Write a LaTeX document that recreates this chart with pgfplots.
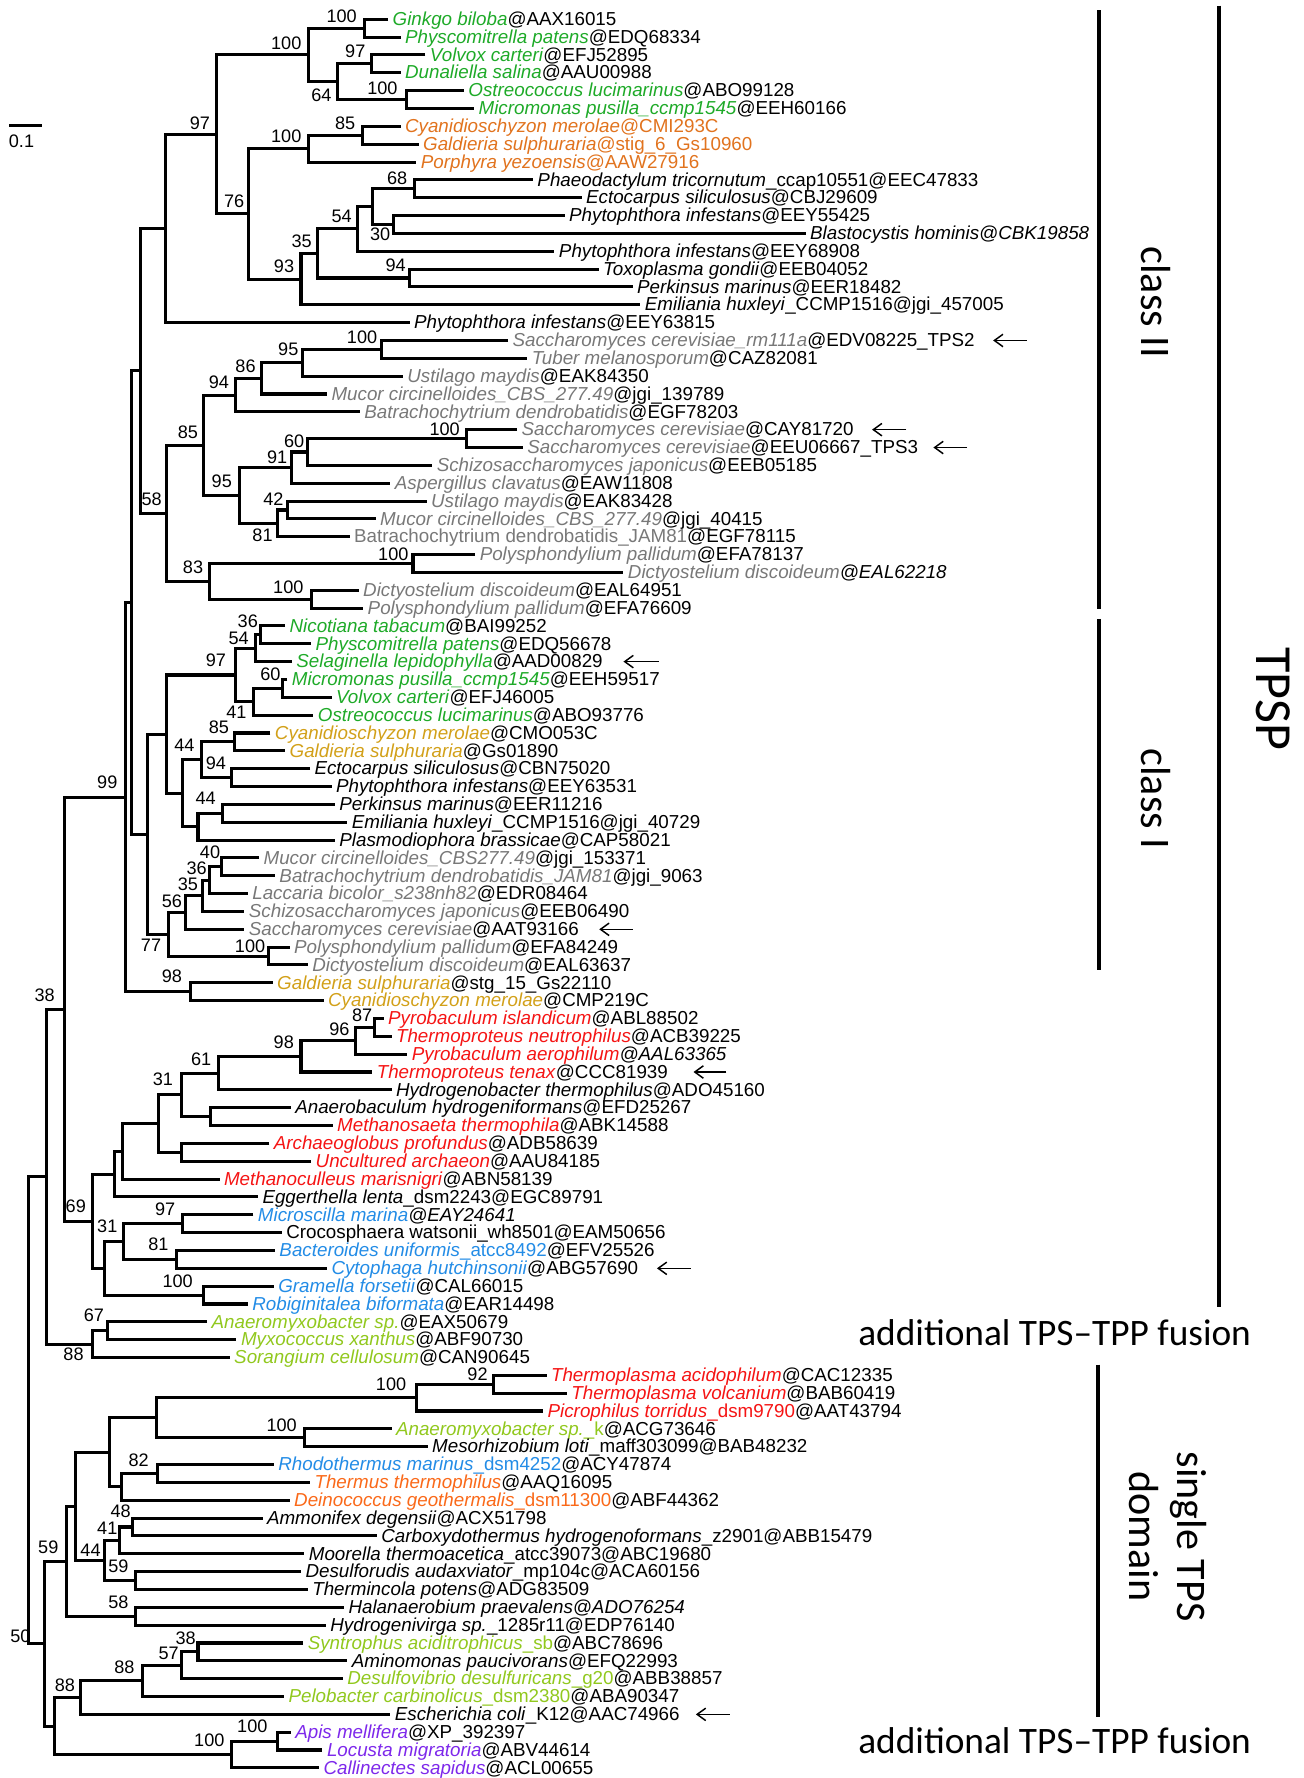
\documentclass[border=0pt]{standalone}
\usepackage{pgfplots}
\pgfplotsset{compat=1.18}
\usepackage{fontspec}
\setmainfont{Liberation Sans}
\newfontfamily\calfont[Ligatures=TeX]{Carlito}
\usetikzlibrary{arrows.meta}
\definecolor{cg}{RGB}{30,170,40}
\definecolor{co}{RGB}{225,115,30}
\definecolor{cd}{RGB}{210,160,25}
\definecolor{cy}{RGB}{120,120,120}
\definecolor{cr}{RGB}{245,20,20}
\definecolor{cb}{RGB}{35,140,230}
\definecolor{cp}{RGB}{145,200,30}
\definecolor{ct}{RGB}{250,105,25}
\definecolor{cv}{RGB}{125,40,235}
\newcommand{\cG}[1]{\textcolor{cg}{\textit{#1}}}
\newcommand{\cO}[1]{\textcolor{co}{\textit{#1}}}
\newcommand{\cD}[1]{\textcolor{cd}{\textit{#1}}}
\newcommand{\cY}[1]{\textcolor{cy}{\textit{#1}}}
\newcommand{\cR}[1]{\textcolor{cr}{\textit{#1}}}
\newcommand{\cB}[1]{\textcolor{cb}{\textit{#1}}}
\newcommand{\cP}[1]{\textcolor{cp}{\textit{#1}}}
\newcommand{\cT}[1]{\textcolor{ct}{\textit{#1}}}
\newcommand{\cV}[1]{\textcolor{cv}{\textit{#1}}}
\tikzset{
 tr/.style={black,line width=1.35pt,mark=none,line join=miter,line cap=butt},
 bar/.style={black,line width=1.9pt,mark=none},
 arr/.style={black,line width=0.65pt,mark=none,-{Straight Barb[length=3.8pt,width=5.5pt]}},
 lab/.style={anchor=base west,inner sep=0pt,xshift=1.8pt,yshift=-2.75pt,font=\fontsize{8.3}{10}\selectfont},
 sup/.style={anchor=center,inner sep=0pt,font=\fontsize{8}{9}\selectfont},
}
\newcommand{\br}[5]{\addplot[tr] coordinates {(#1,#2) (#3,#2) (#3,#4) (#5,#4)};}
\newcommand{\lf}[3]{\node[lab] at (axis cs:#1,#2) {#3};}
\newcommand{\sv}[3]{\node[sup] at (axis cs:#1,#2) {#3};}
\begin{document}
\begin{tikzpicture}
\begin{axis}[x=0.5pt,y=0.5pt,y dir=reverse,xmin=0,xmax=1152,ymin=0,ymax=1568,
 axis lines=box,axis line style={draw=none},xtick=\empty,ytick=\empty,clip=false]
% ---- class II
\br{343}{17.0}{322}{32.8}{354}
\br{376}{48.5}{328}{64.3}{354}
\br{410}{80.1}{359}{95.9}{419}
\br{328}{56.4}{298}{88.0}{359}
\br{322}{24.9}{273}{72.2}{298}
\br{354}{111.6}{320}{127.4}{370}
\br{320}{119.5}{273}{143.2}{368}
\br{471}{158.9}{366}{174.7}{514}
\br{499}{190.5}{348}{206.2}{712}
\br{366}{166.8}{329}{198.35}{348}
\br{329}{182.6}{316}{222.0}{490}
\br{529}{237.8}{362}{253.6}{559}
\br{316}{202.3}{281}{245.7}{362}
\br{281}{224.0}{266}{269.3}{566}
\br{273}{131.35}{220}{246.65}{266}
\br{273}{48.55}{191}{189.0}{220}
\br{191}{118.8}{146}{285.1}{362}
\br{449}{300.9}{337}{316.6}{466}
\br{337}{308.75}{267}{332.4}{356}
\br{267}{320.6}{231}{348.2}{289}
\br{231}{334.4}{208}{364.0}{318}
\br{457}{379.7}{412}{395.5}{462}
\br{412}{387.6}{272}{411.3}{382}
\br{272}{399.45}{258}{427.0}{345}
\br{377}{442.8}{254}{458.6}{332}
\br{254}{450.7}{245}{474.3}{309}
\br{258}{413.2}{212}{462.5}{245}
\br{208}{349.2}{180}{437.85}{212}
\br{420}{490.1}{365}{505.9}{551}
\br{317}{521.6}{275}{537.4}{321}
\br{365}{498.0}{185}{529.5}{275}
\br{180}{393.5}{147}{513.75}{185}
\br{146}{201.95}{124}{453.6}{147}
% ---- class I
\br{252}{553.2}{230}{569.0}{275}
\br{230}{561.1}{226}{584.7}{258}
\br{254}{600.5}{250}{616.3}{293}
\br{250}{608.4}{224}{632.0}{277}
\br{226}{572.9}{208}{620.2}{224}
\br{239}{647.8}{207}{663.6}{252}
\br{274}{679.3}{205}{695.1}{293}
\br{207}{655.7}{178}{687.2}{205}
\br{296}{710.9}{197}{726.7}{307}
\br{197}{718.8}{175}{742.4}{296}
\br{178}{671.45}{161}{730.6}{175}
\br{208}{596.55}{147}{701.0}{161}
\br{229}{758.2}{196}{774.0}{243}
\br{196}{766.1}{185}{789.7}{219}
\br{185}{777.9}{179}{805.5}{216}
\br{179}{791.7}{164}{821.3}{216}
\br{256}{837.0}{237}{852.8}{272}
\br{164}{806.5}{149}{844.9}{237}
\br{147}{648.8}{130}{825.7}{149}
\br{124}{327.8}{116}{737.25}{130}
\br{241}{868.6}{168}{884.3}{286}
\br{116}{532.5}{111}{876.45}{168}
% ---- fusion group
\br{339}{900.1}{331}{915.9}{346}
\br{331}{908.0}{314}{931.6}{360}
\br{314}{919.8}{266}{947.4}{329}
\br{266}{933.6}{193}{963.2}{346}
\br{257}{979.0}{186}{994.7}{294}
\br{193}{948.4}{160}{986.85}{186}
\br{238}{1010.5}{160}{1026.3}{275}
\br{160}{967.6}{140}{1018.4}{160}
\br{140}{993.0}{108}{1042.0}{194}
\br{108}{1017.5}{101}{1057.8}{228}
\br{224}{1073.6}{161}{1089.3}{249}
\br{243}{1105.1}{156}{1120.9}{289}
\br{161}{1081.45}{109}{1113.0}{156}
\br{242}{1136.6}{180}{1152.4}{219}
\br{109}{1097.2}{92}{1144.5}{180}
\br{101}{1037.65}{82}{1120.85}{92}
\br{111}{704.5}{57}{1079.25}{82}
\br{183}{1168.2}{95}{1184.0}{209}
\br{95}{1176.1}{82}{1199.7}{203}
\br{57}{891.9}{41}{1187.9}{82}
% ---- single TPS
\br{483}{1215.5}{436}{1231.3}{501}
\br{436}{1223.4}{368}{1247.0}{480}
\br{346}{1262.8}{269}{1278.6}{378}
\br{368}{1235.2}{138}{1270.7}{269}
\br{242}{1294.3}{139}{1310.1}{274}
\br{139}{1302.2}{107}{1325.9}{256}
\br{138}{1252.95}{97}{1314.05}{107}
\br{232}{1341.6}{117}{1357.4}{333}
\br{117}{1349.5}{106}{1373.2}{269}
\br{266}{1389.0}{120}{1404.7}{272}
\br{106}{1361.35}{92}{1396.85}{120}
\br{97}{1283.5}{67}{1379.1}{92}
\br{304}{1420.5}{120}{1436.3}{288}
\br{67}{1331.3}{59}{1428.4}{120}
\br{268}{1452.0}{175}{1467.8}{307}
\br{175}{1459.9}{160}{1483.6}{303}
\br{160}{1471.75}{126}{1499.3}{251}
\br{126}{1485.5}{71}{1515.1}{345}
\br{257}{1530.9}{245}{1546.6}{285}
\br{245}{1538.75}{205}{1562.4}{282}
\br{71}{1500.3}{48}{1550.6}{205}
\br{59}{1379.85}{39.5}{1525.45}{48}
\br{41}{1039.9}{25}{1452.65}{39.5}
% scale bar
\addplot[tr] coordinates {(8,110.8) (36.7,110.8)};
\sv{19}{125}{0.1}
% bars
\addplot[bar] coordinates {(971.5,9) (971.5,538)};
\addplot[bar] coordinates {(971.5,547) (971.5,857)};
\addplot[bar] coordinates {(1077.5,5) (1077.5,1155)};
\addplot[bar] coordinates {(970.5,1206) (970.5,1517)};
% arrows
\addplot[arr] coordinates {(907.4,300.9) (877.7,300.9)};
\addplot[arr] coordinates {(801,379.7) (770.7,379.7)};
\addplot[arr] coordinates {(854.7,395.5) (824.9,395.5)};
\addplot[arr] coordinates {(582,584.7) (551,584.7)};
\addplot[arr] coordinates {(559,821.3) (529.6,821.3)};
\addplot[arr] coordinates {(642,947.4) (612.9,947.4)};
\addplot[arr] coordinates {(610.4,1120.9) (580.6,1120.9)};
\addplot[arr] coordinates {(645,1515.1) (615,1515.1)};
% right labels
\node[rotate=-90,inner sep=0pt,font=\calfont\fontsize{18.6}{20}\selectfont] at (axis cs:1022,267) {class II};
\node[rotate=-90,inner sep=0pt,font=\calfont\fontsize{18.6}{20}\selectfont] at (axis cs:1022,706) {class I};
\node[rotate=-90,inner sep=0pt,font=\calfont\fontsize{23}{25}\selectfont] at (axis cs:1125.5,617.5) {TPSP};
\node[rotate=-90,inner sep=0pt,align=center,font=\calfont\fontsize{18.6}{21}\selectfont] at (axis cs:1032,1358) {single TPS\\domain};
\node[anchor=east,inner sep=0pt,font=\calfont\fontsize{16.5}{18}\selectfont] at (axis cs:1106,1178) {additional TPS\textendash TPP fusion};
\node[anchor=east,inner sep=0pt,font=\calfont\fontsize{16.5}{18}\selectfont] at (axis cs:1106,1538.5) {additional TPS\textendash TPP fusion};
% support values
\sv{302}{14.7}{100}
\sv{253}{38.2}{100}
\sv{314}{45.6}{97}
\sv{284}{83.8}{64}
\sv{338}{77.9}{100}
\sv{176.6}{108.8}{97}
\sv{305}{108.8}{85}
\sv{253}{120.5}{100}
\sv{351}{157.3}{68}
\sv{207}{177.9}{76}
\sv{302}{191}{54}
\sv{336}{207.3}{30}
\sv{266.6}{213.2}{35}
\sv{251}{235.2}{93}
\sv{349.6}{234.3}{94}
\sv{320}{298.4}{100}
\sv{254.8}{308.7}{95}
\sv{217}{323.4}{86}
\sv{193.5}{338.1}{94}
\sv{166}{382.2}{85}
\sv{393}{379.3}{100}
\sv{260}{389.6}{60}
\sv{245}{404.3}{91}
\sv{196}{425.7}{95}
\sv{241.7}{441}{42}
\sv{134}{441}{58}
\sv{232}{473.4}{81}
\sv{347.6}{489.5}{100}
\sv{170.6}{501.3}{83}
\sv{254.8}{519}{100}
\sv{219}{549.2}{36}
\sv{211}{563.9}{54}
\sv{190.8}{583.6}{97}
\sv{239}{596.2}{60}
\sv{209}{629.2}{41}
\sv{193.5}{642.4}{85}
\sv{163}{658.6}{44}
\sv{190.8}{674.7}{94}
\sv{94.8}{690.9}{99}
\sv{181.7}{705.6}{44}
\sv{185.6}{753.2}{40}
\sv{173.8}{767.4}{36}
\sv{166}{781.5}{35}
\sv{152}{796.8}{56}
\sv{133.5}{835}{77}
\sv{221}{836.5}{100}
\sv{152}{863}{98}
\sv{39.5}{879.2}{38}
\sv{320}{897.4}{87}
\sv{300}{909.2}{96}
\sv{250.8}{920.9}{98}
\sv{177.8}{936.5}{61}
\sv{144}{954.1}{31}
\sv{67}{1065.9}{69}
\sv{146}{1068.8}{97}
\sv{94.8}{1083.5}{31}
\sv{140}{1099.7}{81}
\sv{157}{1132}{100}
\sv{83}{1162}{67}
\sv{65}{1196.7}{88}
\sv{422}{1214.5}{92}
\sv{345.6}{1223.2}{100}
\sv{248.9}{1259.3}{100}
\sv{122.5}{1290.2}{82}
\sv{106.7}{1336}{48}
\sv{94.8}{1351}{41}
\sv{42.7}{1367.2}{59}
\sv{80}{1370.2}{44}
\sv{104.7}{1384.3}{59}
\sv{104.7}{1415.8}{58}
\sv{18}{1446}{50}
\sv{164}{1448}{38}
\sv{149}{1461.3}{57}
\sv{110}{1473.1}{88}
\sv{57.3}{1489.3}{88}
\sv{223}{1525.4}{100}
\sv{185}{1537.8}{100}
% leaf labels
\lf{343}{17.0}{\cG{Ginkgo biloba}@AAX16015}
\lf{354}{32.8}{\cG{Physcomitrella patens}@EDQ68334}
\lf{376}{48.5}{\cG{Volvox carteri}@EFJ52895}
\lf{354}{64.3}{\cG{Dunaliella salina}@AAU00988}
\lf{410}{80.1}{\cG{Ostreococcus lucimarinus}@ABO99128}
\lf{419}{95.9}{\cG{Micromonas pusilla\_ccmp1545}@EEH60166}
\lf{354}{111.6}{\cO{Cyanidioschyzon merolae}\textcolor{co}{@CMI293C}}
\lf{370}{127.4}{\cO{Galdieria sulphuraria}\textcolor{co}{@stig\_6\_Gs10960}}
\lf{368}{143.2}{\cO{Porphyra yezoensis}\textcolor{co}{@AAW27916}}
\lf{471}{158.9}{\textit{Phaeodactylum tricornutum}\_ccap10551@EEC47833}
\lf{514}{174.7}{\textit{Ectocarpus siliculosus}@CBJ29609}
\lf{499}{190.5}{\textit{Phytophthora infestans}@EEY55425}
\lf{712}{206.2}{\textit{Blastocystis hominis@CBK19858}}
\lf{490}{222.0}{\textit{Phytophthora infestans}@EEY68908}
\lf{529}{237.8}{\textit{Toxoplasma gondii}@EEB04052}
\lf{559}{253.6}{\textit{Perkinsus marinus}@EER18482}
\lf{566}{269.3}{\textit{Emiliania huxleyi}\_CCMP1516@jgi\_457005}
\lf{362}{285.1}{\textit{Phytophthora infestans}@EEY63815}
\lf{449}{300.9}{\cY{Saccharomyces cerevisiae\_rm111a}@EDV08225\_TPS2}
\lf{466}{316.6}{\cY{Tuber melanosporum}@CAZ82081}
\lf{356}{332.4}{\cY{Ustilago maydis}@EAK84350}
\lf{289}{348.2}{\cY{Mucor circinelloides\_CBS\_277.49}@jgi\_139789}
\lf{318}{364.0}{\cY{Batrachochytrium dendrobatidis}@EGF78203}
\lf{457}{379.7}{\cY{Saccharomyces cerevisiae}@CAY81720}
\lf{462}{395.5}{\cY{Saccharomyces cerevisiae}@EEU06667\_TPS3}
\lf{382}{411.3}{\cY{Schizosaccharomyces japonicus}@EEB05185}
\lf{345}{427.0}{\cY{Aspergillus clavatus}@EAW11808}
\lf{377}{442.8}{\cY{Ustilago maydis}@EAK83428}
\lf{332}{458.6}{\cY{Mucor circinelloides\_CBS\_277.49}@jgi\_40415}
\lf{309}{474.3}{\textcolor{cy}{Batrachochytrium dendrobatidis\_JAM81}@EGF78115}
\lf{420}{490.1}{\cY{Polysphondylium pallidum}@EFA78137}
\lf{551}{505.9}{\cY{Dictyostelium discoideum}\textit{@EAL62218}}
\lf{317}{521.6}{\cY{Dictyostelium discoideum}@EAL64951}
\lf{321}{537.4}{\cY{Polysphondylium pallidum}@EFA76609}
\lf{252}{553.2}{\cG{Nicotiana tabacum}@BAI99252}
\lf{275}{569.0}{\cG{Physcomitrella patens}@EDQ56678}
\lf{258}{584.7}{\cG{Selaginella lepidophylla}@AAD00829}
\lf{254}{600.5}{\cG{Micromonas pusilla\_ccmp1545}@EEH59517}
\lf{293}{616.3}{\cG{Volvox carteri}@EFJ46005}
\lf{277}{632.0}{\cG{Ostreococcus lucimarinus}@ABO93776}
\lf{239}{647.8}{\cD{Cyanidioschyzon merolae}@CMO053C}
\lf{252}{663.6}{\cD{Galdieria sulphuraria}@Gs01890}
\lf{274}{679.3}{\textit{Ectocarpus siliculosus}@CBN75020}
\lf{293}{695.1}{\textit{Phytophthora infestans}@EEY63531}
\lf{296}{710.9}{\textit{Perkinsus marinus}@EER11216}
\lf{307}{726.7}{\textit{Emiliania huxleyi}\_CCMP1516@jgi\_40729}
\lf{296}{742.4}{\textit{Plasmodiophora brassicae}@CAP58021}
\lf{229}{758.2}{\cY{Mucor circinelloides\_CBS277.49}@jgi\_153371}
\lf{243}{774.0}{\cY{Batrachochytrium dendrobatidis\_JAM81}@jgi\_9063}
\lf{219}{789.7}{\cY{Laccaria bicolor\_s238nh82}@EDR08464}
\lf{216}{805.5}{\cY{Schizosaccharomyces japonicus}@EEB06490}
\lf{216}{821.3}{\cY{Saccharomyces cerevisiae}@AAT93166}
\lf{256}{837.0}{\cY{Polysphondylium pallidum}@EFA84249}
\lf{272}{852.8}{\cY{Dictyostelium discoideum}@EAL63637}
\lf{241}{868.6}{\cD{Galdieria sulphuraria}@stg\_15\_Gs22110}
\lf{286}{884.3}{\cD{Cyanidioschyzon merolae}@CMP219C}
\lf{339}{900.1}{\cR{Pyrobaculum islandicum}@ABL88502}
\lf{346}{915.9}{\cR{Thermoproteus neutrophilus}@ACB39225}
\lf{360}{931.6}{\cR{Pyrobaculum aerophilum}\textit{@AAL63365}}
\lf{329}{947.4}{\cR{Thermoproteus tenax}@CCC81939}
\lf{346}{963.2}{\textit{Hydrogenobacter thermophilus}@ADO45160}
\lf{257}{979.0}{\textit{Anaerobaculum hydrogeniformans}@EFD25267}
\lf{294}{994.7}{\cR{Methanosaeta thermophila}@ABK14588}
\lf{238}{1010.5}{\cR{Archaeoglobus profundus}@ADB58639}
\lf{275}{1026.3}{\cR{Uncultured archaeon}@AAU84185}
\lf{194}{1042.0}{\cR{Methanoculleus marisnigri}@ABN58139}
\lf{228}{1057.8}{\textit{Eggerthella lenta}\_dsm2243@EGC89791}
\lf{224}{1073.6}{\cB{Microscilla marina}\textit{@EAY24641}}
\lf{249}{1089.3}{Crocosphaera watsonii\_wh8501@EAM50656}
\lf{243}{1105.1}{\cB{Bacteroides uniformis}\textcolor{cb}{\_atcc8492}@EFV25526}
\lf{289}{1120.9}{\cB{Cytophaga hutchinsonii}@ABG57690}
\lf{242}{1136.6}{\cB{Gramella forsetii}@CAL66015}
\lf{219}{1152.4}{\cB{Robiginitalea biformata}@EAR14498}
\lf{183}{1168.2}{\cP{Anaeromyxobacter sp.}@EAX50679}
\lf{209}{1184.0}{\cP{Myxococcus xanthus}@ABF90730}
\lf{203}{1199.7}{\cP{Sorangium cellulosum}@CAN90645}
\lf{483}{1215.5}{\cR{Thermoplasma acidophilum}@CAC12335}
\lf{501}{1231.3}{\cR{Thermoplasma volcanium}@BAB60419}
\lf{480}{1247.0}{\cR{Picrophilus torridus}\textcolor{cr}{\_dsm9790}@AAT43794}
\lf{346}{1262.8}{\cP{Anaeromyxobacter sp.}\textcolor{cp}{\_k}@ACG73646}
\lf{378}{1278.6}{\textit{Mesorhizobium loti}\_maff303099@BAB48232}
\lf{242}{1294.3}{\cB{Rhodothermus marinus}\textcolor{cb}{\_dsm4252}@ACY47874}
\lf{274}{1310.1}{\cT{Thermus thermophilus}@AAQ16095}
\lf{256}{1325.9}{\cT{Deinococcus geothermalis}\textcolor{ct}{\_dsm11300}@ABF44362}
\lf{232}{1341.6}{\textit{Ammonifex degensii}@ACX51798}
\lf{333}{1357.4}{\textit{Carboxydothermus hydrogenoformans}\_z2901@ABB15479}
\lf{269}{1373.2}{\textit{Moorella thermoacetica}\_atcc39073@ABC19680}
\lf{266}{1389.0}{\textit{Desulforudis audaxviator}\_mp104c@ACA60156}
\lf{272}{1404.7}{\textit{Thermincola potens}@ADG83509}
\lf{304}{1420.5}{\textit{Halanaerobium praevalens@ADO76254}}
\lf{288}{1436.3}{\textit{Hydrogenivirga sp.}\_1285r11@EDP76140}
\lf{268}{1452.0}{\cP{Syntrophus aciditrophicus}\textcolor{cp}{\_sb}@ABC78696}
\lf{307}{1467.8}{\textit{Aminomonas paucivorans}@EFQ22993}
\lf{303}{1483.6}{\cP{Desulfovibrio desulfuricans}\textcolor{cp}{\_g20}@ABB38857}
\lf{251}{1499.3}{\cP{Pelobacter carbinolicus}\textcolor{cp}{\_dsm2380}@ABA90347}
\lf{345}{1515.1}{\textit{Escherichia coli}\_K12@AAC74966}
\lf{257}{1530.9}{\cV{Apis mellifera}@XP\_392397}
\lf{285}{1546.6}{\cV{Locusta migratoria}@ABV44614}
\lf{282}{1562.4}{\cV{Callinectes sapidus}@ACL00655}
\end{axis}
\end{tikzpicture}
\end{document}
